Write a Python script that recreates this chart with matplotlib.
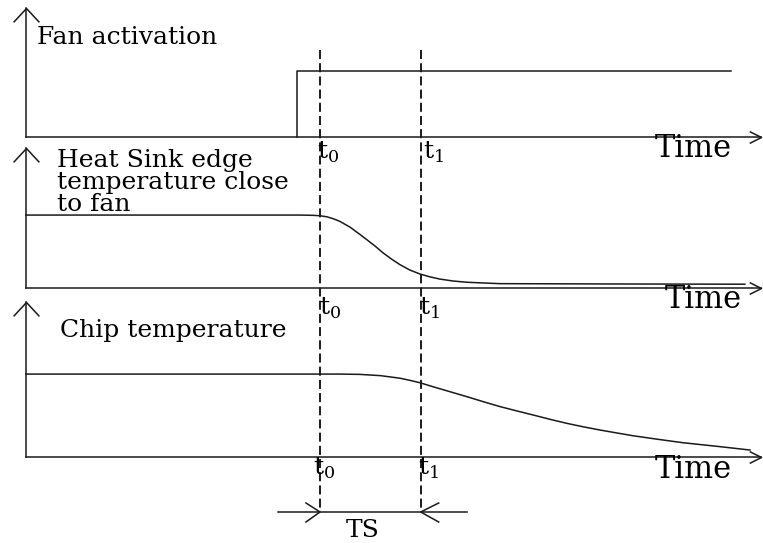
import matplotlib
matplotlib.use("Agg")
import matplotlib.pyplot as plt
from matplotlib.path import Path
from matplotlib.markers import MarkerStyle

# ---------------- data (time in arbitrary units 0..100, level 0..1) ----------------
t0 = 40.0
t1 = 53.7
fan_on = 36.9
fan_end = 95.9
fan_level = 0.508

hs_t = [0, 37.3, 39.1, 40.0, 40.9, 41.8, 42.7, 44.1, 45.4, 46.4, 47.5, 48.6, 49.8, 50.9,
        52.2, 53.6, 55.0, 56.3, 58.1, 60.0, 62.2, 64.5, 78.1, 97.8]
hs_v = [0.521, 0.521, 0.519, 0.516, 0.509, 0.495, 0.476, 0.434, 0.384, 0.344, 0.299, 0.250,
        0.204, 0.166, 0.129, 0.100, 0.079, 0.064, 0.050, 0.041, 0.036, 0.031, 0.029, 0.027]

chip_t = [0, 40.0, 42.7, 45.4, 48.2, 49.5, 50.9, 52.2, 53.6, 55.4, 57.7, 60.0, 62.2,
          64.5, 66.8, 69.0, 71.3, 73.6, 75.8, 78.1, 80.4, 82.6, 86.0, 89.4, 94.0, 98.5]
chip_v = [0.535, 0.535, 0.535, 0.533, 0.525, 0.517, 0.508, 0.495, 0.479, 0.453, 0.421,
          0.389, 0.357, 0.325, 0.297, 0.271, 0.243, 0.217, 0.195, 0.174, 0.155, 0.137, 0.114,
          0.092, 0.069, 0.045]

panel_titles = ["Fan activation", ["Heat Sink edge", "temperature close", "to fan"],
                "Chip temperature"]
axis_label = "Time"
tick_names = [r"$\mathrm{t}_0$", r"$\mathrm{t}_1$"]
span_label = "TS"

# ---------------- layout ----------------
W, H = 763, 543
DPI = 100
plt.rcParams['mathtext.fontset'] = 'custom'
plt.rcParams['mathtext.rm'] = 'DejaVu Serif'
plt.rcParams['lines.scale_dashes'] = False
SERIF = 'DejaVu Serif'
LC = '#1a1a1a'
TITLE_FS = 18

fig = plt.figure(figsize=(W / DPI, H / DPI), dpi=DPI)
fig.patch.set_facecolor('white')

X0, X1 = 26, 761          # pixel extent of time axis
PXU = (X1 - X0) / 100.0   # pixels per time unit
# (axis_y_px, top_apex_px) for each panel
panels = [(136.5, 8), (288, 148), (457, 302)]


def fx(px):
    return (px - X0) / PXU


axes = []
for (yb, yt) in panels:
    ax = fig.add_axes([X0 / W, (H - yb) / H, (X1 - X0) / W, (yb - yt) / H])
    ax.set_xlim(0, 100)
    ax.set_ylim(0, 1)
    ax.axis('off')
    ax.patch.set_alpha(0)
    axes.append(ax)

# overlay axes: x in time units, y in pixels
ov = fig.add_axes([X0 / W, 0, (X1 - X0) / W, 1])
ov.set_xlim(0, 100)
ov.set_ylim(H, 0)
ov.axis('off')
ov.patch.set_alpha(0)

up_chev = MarkerStyle(Path([(-13, -14), (0, 0), (13, -14)],
                           [Path.MOVETO, Path.LINETO, Path.LINETO]))
right_chev = MarkerStyle(Path([(-12, 6), (0, 0), (-12, -6)],
                              [Path.MOVETO, Path.LINETO, Path.LINETO]))

lw = 1.1
for ax in axes:
    ax.plot([0, 0], [0, 1], color=LC, lw=lw, clip_on=False)
    ax.plot([0, 100], [0, 0], color=LC, lw=lw, clip_on=False)
    ax.plot([0], [1], marker=up_chev, ms=20, mfc='none', mec=LC, mew=lw, clip_on=False)
    ax.plot([100], [0], marker=right_chev, ms=17, mfc='none', mec=LC, mew=lw, clip_on=False)

# curves
axes[0].plot([fan_on, fan_on, fan_end], [0, fan_level, fan_level], color=LC, lw=lw, clip_on=False)
axes[1].plot(hs_t, hs_v, color=LC, lw=lw, clip_on=False)
axes[2].plot(chip_t, chip_v, color=LC, lw=lw, clip_on=False)

# dashed markers
for t in (t0, t1):
    ov.plot([t, t], [50, 512], color=LC, lw=1.4, dashes=(6.5, 3.0))

# TS span arrows
ov.plot([fx(278), fx(467)], [512, 512], color=LC, lw=lw)
ov.plot([t0 - 14 / PXU, t0, t0 - 14 / PXU], [503, 512, 522], color=LC, lw=lw)
ov.plot([t1 + 18 / PXU, t1, t1 + 18 / PXU], [503, 512, 522], color=LC, lw=lw)
ov.text(fx(346), 537, span_label, fontsize=18, family=SERIF, va='baseline', ha='left')

# panel titles
ov.text(fx(37), 44.5, panel_titles[0], fontsize=TITLE_FS, family=SERIF, va='baseline', ha='left')
for line, yb in zip(panel_titles[1], [167, 189, 211]):
    ov.text(fx(57), yb, line, fontsize=TITLE_FS, family=SERIF, va='baseline', ha='left')
ov.text(fx(60), 337, panel_titles[2], fontsize=TITLE_FS, family=SERIF, va='baseline', ha='left')

# time labels
for (x, yb) in [(655, 157), (665, 308), (655, 478)]:
    ov.text(fx(x), yb, axis_label, fontsize=22, family=SERIF, va='baseline', ha='left')

# t0 / t1 labels
for (x0p, x1p, yb) in [(317, 423, 159), (319, 419, 315), (313, 418, 475)]:
    ov.text(fx(x0p), yb, tick_names[0], fontsize=18, va='baseline', ha='left')
    ov.text(fx(x1p), yb, tick_names[1], fontsize=18, va='baseline', ha='left')

fig.savefig('out.png', dpi=DPI, facecolor='white')
